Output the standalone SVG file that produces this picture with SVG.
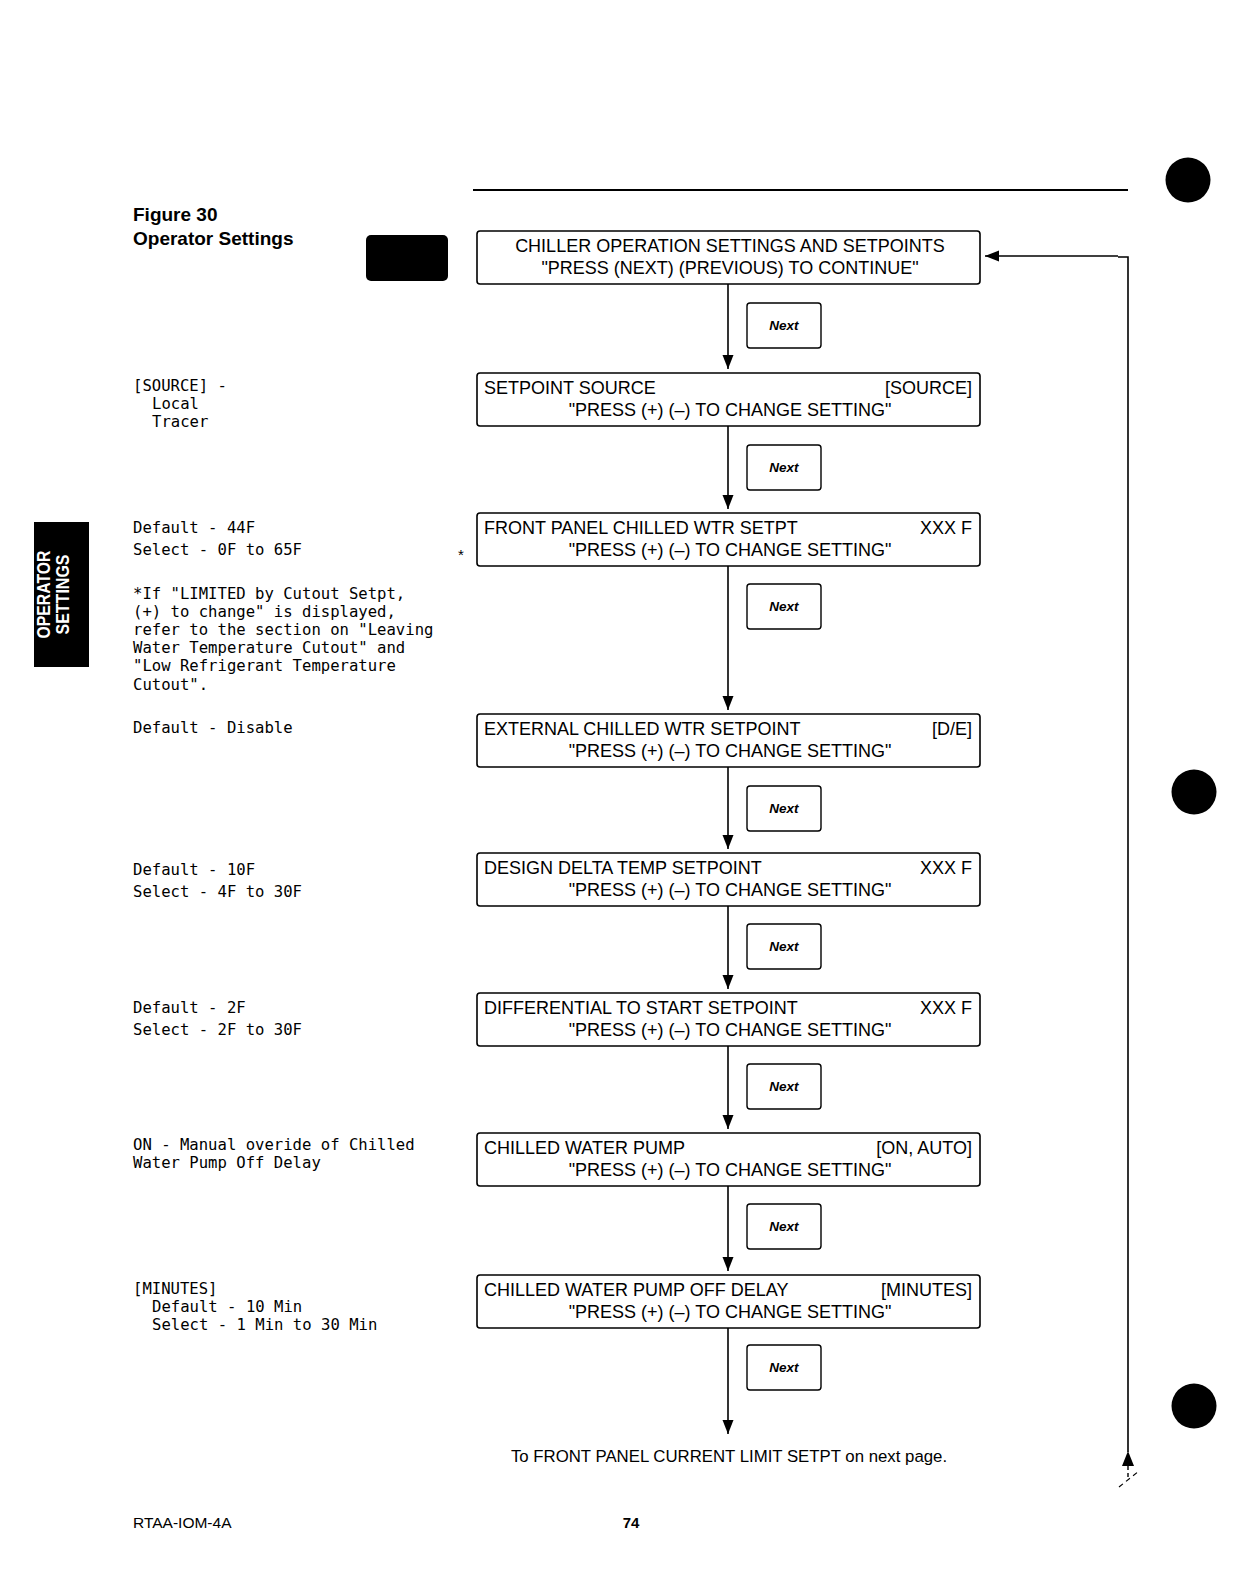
<svg xmlns="http://www.w3.org/2000/svg" width="1241" height="1590" viewBox="0 0 1241 1590">
<style>
.box{fill:#fff;stroke:#000;stroke-width:1.6}
.nb{fill:#fff;stroke:#000;stroke-width:1.4}
.bt{font-family:"Liberation Sans",Arial,sans-serif;font-size:18px;fill:#000}
.ce{text-anchor:middle}
.re{text-anchor:end}
.nx{font-family:"Liberation Sans",Arial,sans-serif;font-size:13.5px;font-weight:bold;font-style:italic;text-anchor:middle;fill:#000}
.mo{font-family:"DejaVu Sans Mono","Liberation Mono",monospace;font-size:15.6px;fill:#000}
.ln{fill:none;stroke:#000;stroke-width:1.6}
.hd{font-family:"Liberation Sans",Arial,sans-serif;font-size:19px;font-weight:bold;fill:#000}
</style>
<defs>
<marker id="ah" markerUnits="userSpaceOnUse" markerWidth="14" markerHeight="14" viewBox="0 -7 14 14" refX="14" refY="0" orient="auto">
<path d="M0,-5.5 L14,0 L0,5.5 z" fill="#000"/>
</marker>
</defs>
<rect width="1241" height="1590" fill="#fff"/>

<!-- header -->
<line x1="473" y1="190" x2="1128" y2="190" stroke="#000" stroke-width="2"/>
<text class="hd" x="133" y="221">Figure 30</text>
<text class="hd" x="133" y="245">Operator Settings</text>
<rect x="366" y="235" width="82" height="46" rx="5" fill="#000"/>

<!-- binder holes -->
<circle cx="1188" cy="180" r="22.5" fill="#000"/>
<circle cx="1194" cy="792" r="22.5" fill="#000"/>
<circle cx="1194" cy="1406" r="22.5" fill="#000"/>

<!-- side tab -->
<g id="tab">
<rect x="34" y="522" width="55" height="145" fill="#000"/>
<text transform="translate(49.5,594.5) rotate(-90)" text-anchor="middle" font-family="'Liberation Sans',Arial,sans-serif" font-size="19" font-weight="bold" fill="#fff" textLength="88" lengthAdjust="spacingAndGlyphs">OPERATOR</text>
<text transform="translate(69,594.5) rotate(-90)" text-anchor="middle" font-family="'Liberation Sans',Arial,sans-serif" font-size="19" font-weight="bold" fill="#fff" textLength="80" lengthAdjust="spacingAndGlyphs">SETTINGS</text>
</g>

<!-- connectors -->
<g id="connectors">
<line class="ln" x1="728" y1="284" x2="728" y2="369" marker-end="url(#ah)"/>
<line class="ln" x1="728" y1="426" x2="728" y2="509" marker-end="url(#ah)"/>
<line class="ln" x1="728" y1="566" x2="728" y2="710" marker-end="url(#ah)"/>
<line class="ln" x1="728" y1="767" x2="728" y2="849" marker-end="url(#ah)"/>
<line class="ln" x1="728" y1="906" x2="728" y2="989" marker-end="url(#ah)"/>
<line class="ln" x1="728" y1="1046" x2="728" y2="1129" marker-end="url(#ah)"/>
<line class="ln" x1="728" y1="1186" x2="728" y2="1271" marker-end="url(#ah)"/>
<line class="ln" x1="728" y1="1328" x2="728" y2="1434" marker-end="url(#ah)"/>
<polyline class="ln" points="1128,1452 1128,257 1118,257"/>
<line class="ln" x1="1118" y1="256" x2="985" y2="256" marker-end="url(#ah)"/>
<path d="M1128,1451 L1122,1466 L1134,1466 z" fill="#000"/>
<line x1="1128" y1="1466" x2="1128" y2="1480" stroke="#000" stroke-width="1.4" stroke-dasharray="4,3"/>
<line x1="1119" y1="1487" x2="1139" y2="1471" stroke="#000" stroke-width="1.2" stroke-dasharray="5,4"/>
</g>

<!-- node 1 -->
<g id="n1">
<rect class="box" x="477" y="231" width="503" height="53" rx="3"/>
<text class="bt ce" x="730" y="252">CHILLER OPERATION SETTINGS AND SETPOINTS</text>
<text class="bt ce" x="730" y="274">"PRESS (NEXT) (PREVIOUS) TO CONTINUE"</text>
</g>
<g id="next1"><rect class="nb" x="747" y="303" width="74" height="45" rx="3"/><text class="nx" x="784" y="330">Next</text></g>

<!-- node 2 -->
<g id="n2">
<rect class="box" x="477" y="373" width="503" height="53" rx="3"/>
<text class="bt" x="484" y="394">SETPOINT SOURCE</text>
<text class="bt re" x="972" y="394">[SOURCE]</text>
<text class="bt ce" x="730" y="416">"PRESS (+) (–) TO CHANGE SETTING"</text>
</g>
<g id="next2"><rect class="nb" x="747" y="445" width="74" height="45" rx="3"/><text class="nx" x="784" y="472">Next</text></g>

<!-- node 3 -->
<g id="n3">
<rect class="box" x="477" y="513" width="503" height="53" rx="3"/>
<text class="bt" x="484" y="534">FRONT PANEL CHILLED WTR SETPT</text>
<text class="bt re" x="972" y="534">XXX F</text>
<text class="bt ce" x="730" y="556">"PRESS (+) (–) TO CHANGE SETTING"</text>
</g>
<text class="bt" x="458" y="560" style="font-size:15px">*</text>
<g id="next3"><rect class="nb" x="747" y="584" width="74" height="45" rx="3"/><text class="nx" x="784" y="611">Next</text></g>

<!-- node 4 -->
<g id="n4">
<rect class="box" x="477" y="714" width="503" height="53" rx="3"/>
<text class="bt" x="484" y="735">EXTERNAL CHILLED WTR SETPOINT</text>
<text class="bt re" x="972" y="735">[D/E]</text>
<text class="bt ce" x="730" y="757">"PRESS (+) (–) TO CHANGE SETTING"</text>
</g>
<g id="next4"><rect class="nb" x="747" y="786" width="74" height="45" rx="3"/><text class="nx" x="784" y="813">Next</text></g>

<!-- node 5 -->
<g id="n5">
<rect class="box" x="477" y="853" width="503" height="53" rx="3"/>
<text class="bt" x="484" y="874">DESIGN DELTA TEMP SETPOINT</text>
<text class="bt re" x="972" y="874">XXX F</text>
<text class="bt ce" x="730" y="896">"PRESS (+) (–) TO CHANGE SETTING"</text>
</g>
<g id="next5"><rect class="nb" x="747" y="924" width="74" height="45" rx="3"/><text class="nx" x="784" y="951">Next</text></g>

<!-- node 6 -->
<g id="n6">
<rect class="box" x="477" y="993" width="503" height="53" rx="3"/>
<text class="bt" x="484" y="1014">DIFFERENTIAL TO START SETPOINT</text>
<text class="bt re" x="972" y="1014">XXX F</text>
<text class="bt ce" x="730" y="1036">"PRESS (+) (–) TO CHANGE SETTING"</text>
</g>
<g id="next6"><rect class="nb" x="747" y="1064" width="74" height="45" rx="3"/><text class="nx" x="784" y="1091">Next</text></g>

<!-- node 7 -->
<g id="n7">
<rect class="box" x="477" y="1133" width="503" height="53" rx="3"/>
<text class="bt" x="484" y="1154">CHILLED WATER PUMP</text>
<text class="bt re" x="972" y="1154">[ON, AUTO]</text>
<text class="bt ce" x="730" y="1176">"PRESS (+) (–) TO CHANGE SETTING"</text>
</g>
<g id="next7"><rect class="nb" x="747" y="1204" width="74" height="45" rx="3"/><text class="nx" x="784" y="1231">Next</text></g>

<!-- node 8 -->
<g id="n8">
<rect class="box" x="477" y="1275" width="503" height="53" rx="3"/>
<text class="bt" x="484" y="1296">CHILLED WATER PUMP OFF DELAY</text>
<text class="bt re" x="972" y="1296">[MINUTES]</text>
<text class="bt ce" x="730" y="1318">"PRESS (+) (–) TO CHANGE SETTING"</text>
</g>
<g id="next8"><rect class="nb" x="747" y="1345" width="74" height="45" rx="3"/><text class="nx" x="784" y="1372">Next</text></g>

<text class="bt ce" x="729" y="1462" style="font-size:16.8px">To FRONT PANEL CURRENT LIMIT SETPT on next page.</text>

<!-- left notes -->
<g id="notes">
<text class="mo" x="133" y="391">[SOURCE] -</text>
<text class="mo" x="152" y="409">Local</text>
<text class="mo" x="152" y="427">Tracer</text>
<text class="mo" x="133" y="533">Default - 44F</text>
<text class="mo" x="133" y="555">Select - 0F to 65F</text>
<text class="mo" x="133" y="599">*If "LIMITED by Cutout Setpt,</text>
<text class="mo" x="133" y="617">(+) to change" is displayed,</text>
<text class="mo" x="133" y="635">refer to the section on "Leaving</text>
<text class="mo" x="133" y="653">Water Temperature Cutout" and</text>
<text class="mo" x="133" y="671">"Low Refrigerant Temperature</text>
<text class="mo" x="133" y="690">Cutout".</text>
<text class="mo" x="133" y="733">Default - Disable</text>
<text class="mo" x="133" y="875">Default - 10F</text>
<text class="mo" x="133" y="897">Select - 4F to 30F</text>
<text class="mo" x="133" y="1013">Default - 2F</text>
<text class="mo" x="133" y="1035">Select - 2F to 30F</text>
<text class="mo" x="133" y="1150">ON - Manual overide of Chilled</text>
<text class="mo" x="133" y="1168">Water Pump Off Delay</text>
<text class="mo" x="133" y="1294">[MINUTES]</text>
<text class="mo" x="152" y="1312">Default - 10 Min</text>
<text class="mo" x="152" y="1330">Select - 1 Min to 30 Min</text>
</g>

<!-- footer -->
<text x="133" y="1528" font-family="'Liberation Sans',Arial,sans-serif" font-size="15.5" fill="#000">RTAA-IOM-4A</text>
<text x="631" y="1528" text-anchor="middle" font-family="'Liberation Sans',Arial,sans-serif" font-size="15" font-weight="bold" fill="#000">74</text>
</svg>
